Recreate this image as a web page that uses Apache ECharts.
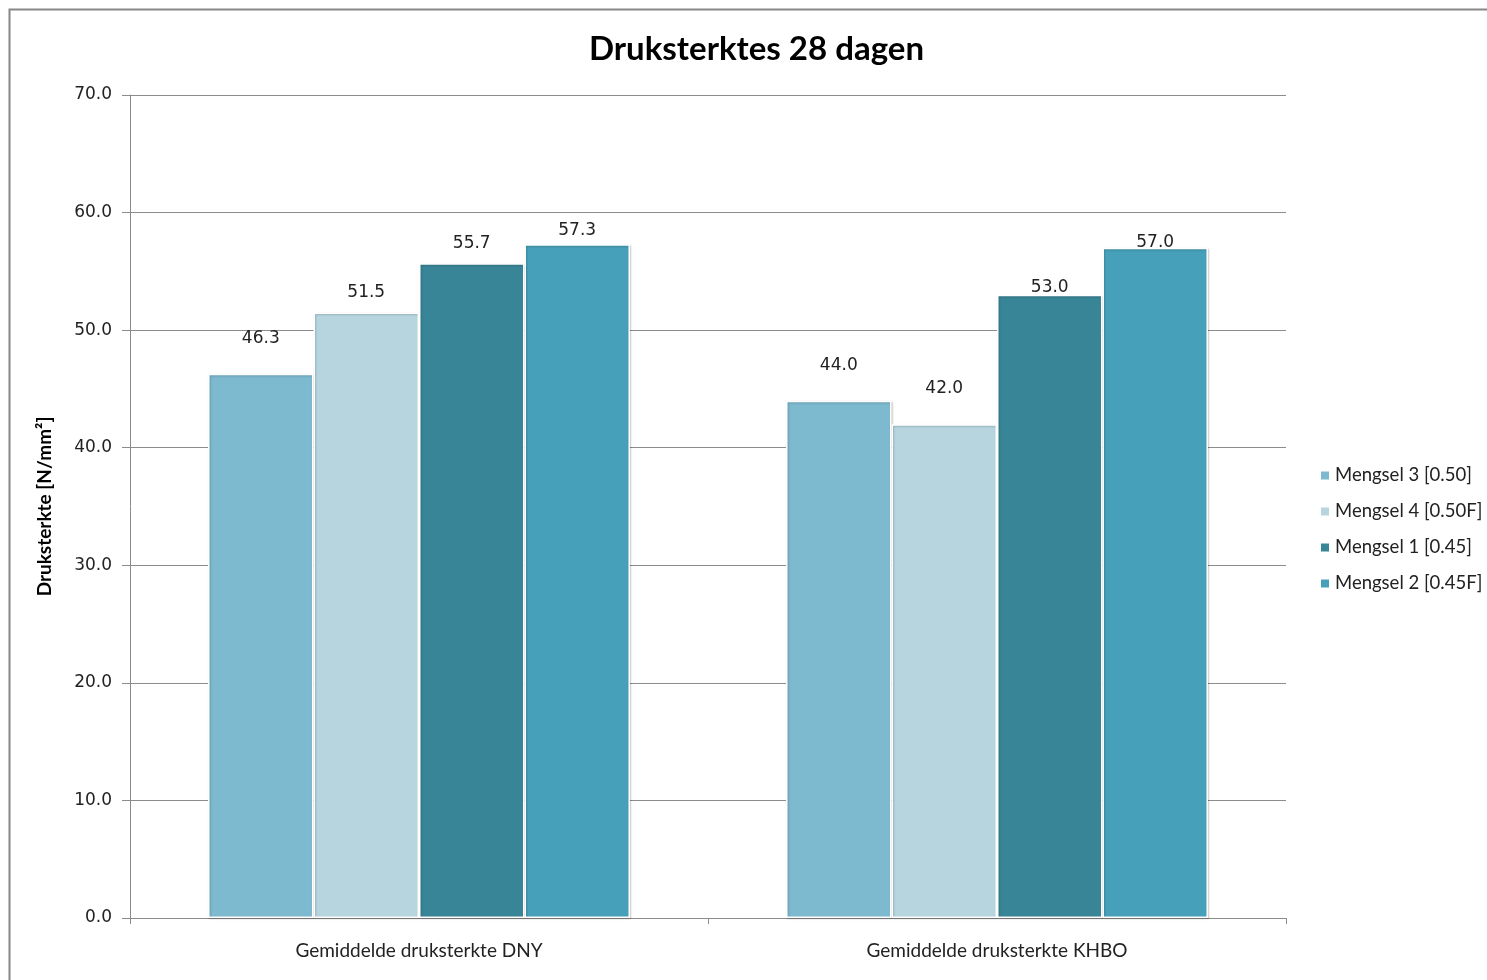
<!DOCTYPE html>
<html>
<head>
<meta charset="utf-8">
<title>Druksterktes 28 dagen</title>
<script src="https://cdn.jsdelivr.net/npm/echarts@6/dist/echarts.min.js"></script>
<style>
    html, body { margin: 0; padding: 0; background: #fff; }
    #chart { width: 1487px; height: 980px; }
</style>
</head>
<body>
<div id="chart"></div>
<script>
    // categories and values
    var categories = ['Gemiddelde druksterkte DNY', 'Gemiddelde druksterkte KHBO']
    var seriesNames = ['Mengsel 3 [0.50]', 'Mengsel 4 [0.50F]', 'Mengsel 1 [0.45]', 'Mengsel 2 [0.45F]']
    var mengsel3 = [46.3, 44.0]
    var mengsel4 = [51.5, 42.0]
    var mengsel1 = [55.7, 53.0]
    var mengsel2 = [57.3, 57.0]
    var yTicks = [0, 10, 20, 30, 40, 50, 60, 70]

    var colors = ['#7db9cf', '#b6d5df', '#388597', '#47a0b9']
    // excel placed the data labels a bit irregularly, extra lift per point
    var labelLift = [[-22, -22], [-6, -22], [-6, 6], [0, 8]]

    var chart = echarts.init(document.getElementById('chart'))

    var allValues = [mengsel3, mengsel4, mengsel1, mengsel2]
    var series = allValues.map(function (vals, i) {
        return {
            name: seriesNames[i],
            type: 'bar',
            barGap: '0%',
            barCategoryGap: '27%',
            itemStyle: {
                color: colors[i],
                borderColor: '#ffffff',
                borderWidth: 1.5,
                shadowColor: 'rgba(0,0,0,0.2)',
                shadowBlur: 2,
                shadowOffsetX: 1,
                shadowOffsetY: 1
            },
            data: vals.map(function (v, j) {
                return {
                    value: v,
                    label: { offset: [0, labelLift[i][j]] }
                }
            }),
            label: {
                show: true,
                position: 'top',
                distance: 5,
                color: '#222',
                fontFamily: 'DejaVu Sans',
                fontSize: 17,
                formatter: function (p) { return p.value.toFixed(1) }
            }
        }
    })

    chart.setOption({
        animation: false,
        textStyle: { fontFamily: 'Lato' },
        graphic: [{
            type: 'rect',
            shape: { x: 9.5, y: 9.5, width: 1500, height: 1000 },
            style: { fill: 'none', stroke: '#878787', lineWidth: 2 },
            silent: true
        }],
        title: {
            text: 'Druksterktes 28 dagen',
            left: 584,
            top: 28,
            textStyle: { fontFamily: 'Lato', fontWeight: 'bold', fontSize: 33, color: '#000' }
        },
        legend: {
            orient: 'vertical',
            left: 1314,
            top: 461,
            itemWidth: 10,
            itemHeight: 10,
            itemGap: 17,
            icon: 'rect',
            textStyle: { fontFamily: 'Lato', fontSize: 18.5, color: '#222' },
            data: seriesNames
        },
        grid: { left: 130, right: 201, top: 95, bottom: 62 },
        xAxis: {
            type: 'category',
            data: categories,
            axisLine: { lineStyle: { color: '#8c8c8c', width: 1 } },
            axisTick: { show: true, alignWithLabel: false, length: 6, lineStyle: { color: '#8c8c8c' } },
            axisLabel: { fontFamily: 'Lato', fontSize: 19, color: '#222', margin: 23 }
        },
        yAxis: {
            type: 'value',
            min: yTicks[0],
            max: yTicks[yTicks.length - 1],
            interval: 10,
            name: 'Druksterkte [N/mm²]',
            nameLocation: 'middle',
            nameGap: 76,
            nameTextStyle: { fontFamily: 'Lato', fontWeight: 'bold', fontSize: 19, color: '#000' },
            axisLine: { show: true, lineStyle: { color: '#8c8c8c', width: 1 } },
            axisTick: { show: true, length: 8, lineStyle: { color: '#8c8c8c' } },
            axisLabel: {
                fontFamily: 'DejaVu Sans',
                fontSize: 17,
                color: '#222',
                margin: 18,
                formatter: function (v) { return v.toFixed(1) }
            },
            splitLine: { lineStyle: { color: '#8c8c8c', width: 1 } }
        },
        series: series
    })
</script>
</body>
</html>
